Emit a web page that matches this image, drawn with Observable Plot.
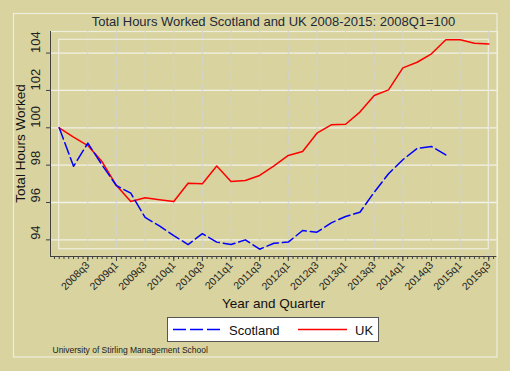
<!DOCTYPE html>
<html>
<head>
<meta charset="utf-8">
<script src="https://cdn.jsdelivr.net/npm/d3@7"></script>
<script src="https://cdn.jsdelivr.net/npm/@observablehq/plot@0.6"></script>
<style>
  html, body { margin: 0; padding: 0; background: #d8d39f; }
  #chart { position: relative; width: 510px; height: 371px; }
  #overlay { position: absolute; left: 0; top: 0; pointer-events: none; }
</style>
</head>
<body>
<div id="chart"></div>
<script>
const quarters = ["2008q1","2008q2","2008q3","2008q4","2009q1","2009q2","2009q3","2009q4",
  "2010q1","2010q2","2010q3","2010q4","2011q1","2011q2","2011q3","2011q4",
  "2012q1","2012q2","2012q3","2012q4","2013q1","2013q2","2013q3","2013q4",
  "2014q1","2014q2","2014q3","2014q4","2015q1","2015q2","2015q3"];
const scotland = [100, 97.94, 99.18, 98.0, 96.9, 96.5, 95.2, 94.75, 94.23, 93.75, 94.33, 93.88,
  93.75, 94.0, 93.5, 93.82, 93.88, 94.5, 94.41, 94.91, 95.25, 95.48, 96.55, 97.54,
  98.29, 98.9, 99.0, 98.55];
const uk = [100, 99.5, 99.05, 98.18, 96.91, 96.05, 96.25, 96.15, 96.05, 97.03, 97.0, 97.95,
  97.13, 97.18, 97.45, 97.96, 98.52, 98.73, 99.71, 100.16, 100.19, 100.84, 101.73, 102.03,
  103.21, 103.51, 103.96, 104.71, 104.71, 104.53, 104.48];
const xTickLabels = ["2008q3","2009q1","2009q3","2010q1","2010q3","2011q1","2011q3","2012q1",
  "2012q3","2013q1","2013q3","2014q1","2014q3","2015q1","2015q3"];
const yTicks = [94, 96, 98, 100, 102, 104];
const seriesNames = ["Scotland", "UK"];
const titleText = "Total Hours Worked Scotland and UK 2008-2015: 2008Q1=100";
const yTitle = "Total Hours Worked";
const xTitle = "Year and Quarter";
const captionText = "University of Stirling Management School";

const scotRows = scotland.map((v, i) => ({i, v}));
const ukRows = uk.map((v, i) => ({i, v}));
const majorIdx = xTickLabels.map(q => quarters.indexOf(q));
const minorIdx = d3.range(-1, (quarters.length - 1) * 3 + 2).map(k => k / 3);
const all = scotland.concat(uk);
const bbox = [{x1: 0, x2: quarters.length - 1, y1: d3.min(all), y2: d3.max(all)}];

const xDom = [-0.608, 30.61];
const yDom = [93.11, 105.155];
const font = "Liberation Sans, Arial, Helvetica, sans-serif";

const plot = Plot.plot({
  width: 510, height: 371,
  marginLeft: 50, marginRight: 13, marginTop: 31, marginBottom: 115,
  style: {background: "transparent", fontFamily: font, color: "#222", overflow: "visible"},
  x: {type: "linear", domain: xDom},
  y: {type: "linear", domain: yDom},
  marks: [
    Plot.frame({stroke: "#efeedc", strokeWidth: 1.2}),
    Plot.gridY(yTicks, {stroke: "#f3f2e9", strokeOpacity: 1, strokeWidth: 1.3}),
    Plot.gridX(majorIdx, {stroke: "#d3d3cb", strokeOpacity: 1, strokeDasharray: "10,3", strokeWidth: 1}),
    Plot.rect(bbox, {x1: "x1", x2: "x2", y1: "y1", y2: "y2", fill: "none", stroke: "#efeedc", strokeWidth: 1.2}),
    Plot.line(ukRows, {x: "i", y: "v", stroke: "#ff0000", strokeWidth: 1.5}),
    Plot.line(scotRows, {x: "i", y: "v", stroke: "#0000ff", strokeWidth: 1.5, strokeDasharray: "12,4"}),
    Plot.ruleX([xDom[0]], {stroke: "#404040", strokeWidth: 1}),
    Plot.ruleY([yDom[0]], {stroke: "#404040", strokeWidth: 1}),
    Plot.axisY(yTicks, {tickSize: 4, tickFormat: () => "", label: null, stroke: "#404040"}),
    Plot.text(yTicks, {y: d => d, text: d => String(d), frameAnchor: "left", dx: -15, rotate: -90, fontSize: 13, fill: "#222"}),
    Plot.axisX(minorIdx, {tickSize: 3, tickFormat: () => "", label: null, stroke: "#404040"}),
    Plot.axisX(majorIdx, {tickSize: 5, tickRotate: -45, tickPadding: 2, tickFormat: i => quarters[i], fontSize: 10.5, label: null, stroke: "#404040"})
  ]
});

const chart = document.getElementById("chart");
chart.appendChild(plot);

// overlay for frame border, titles, legend, caption
const ov = d3.select(chart).append("svg").attr("id", "overlay")
  .attr("width", 510).attr("height", 371)
  .style("font-family", font);

ov.append("rect")
  .attr("x", 13.5).attr("y", 13.5).attr("width", 483.5).attr("height", 343.5)
  .attr("fill", "none").attr("stroke", "#efeedc").attr("stroke-width", 1.2);

ov.append("text").text(titleText)
  .attr("x", 273.5).attr("y", 25.5).attr("text-anchor", "middle")
  .attr("font-size", 13).attr("fill", "#1c2a3a");

ov.append("text").text(yTitle)
  .attr("transform", "translate(25,143.5) rotate(-90)").attr("text-anchor", "middle")
  .attr("font-size", 13.5).attr("fill", "#111");

ov.append("text").text(xTitle)
  .attr("x", 273.5).attr("y", 307.5).attr("text-anchor", "middle")
  .attr("font-size", 13.5).attr("fill", "#111");

// legend
ov.append("rect").attr("x", 167.5).attr("y", 317.5).attr("width", 211).attr("height", 24)
  .attr("fill", "#ffffff").attr("stroke", "#555555").attr("stroke-width", 1);
ov.append("line").attr("x1", 173).attr("x2", 221).attr("y1", 329.5).attr("y2", 329.5)
  .attr("stroke", "#0000ff").attr("stroke-width", 1.3).attr("stroke-dasharray", "13,4");
ov.append("text").text(seriesNames[0]).attr("x", 229).attr("y", 334.5).attr("text-anchor", "start")
  .attr("font-size", 13).attr("fill", "#111");
ov.append("line").attr("x1", 298).attr("x2", 347).attr("y1", 329.5).attr("y2", 329.5)
  .attr("stroke", "#ff0000").attr("stroke-width", 1.3);
ov.append("text").text(seriesNames[1]).attr("x", 355).attr("y", 334.5).attr("text-anchor", "start")
  .attr("font-size", 13).attr("fill", "#111");

ov.append("text").text(captionText)
  .attr("x", 52.5).attr("y", 353).attr("text-anchor", "start")
  .attr("font-size", 8.5).attr("fill", "#222");
</script>
</body>
</html>
